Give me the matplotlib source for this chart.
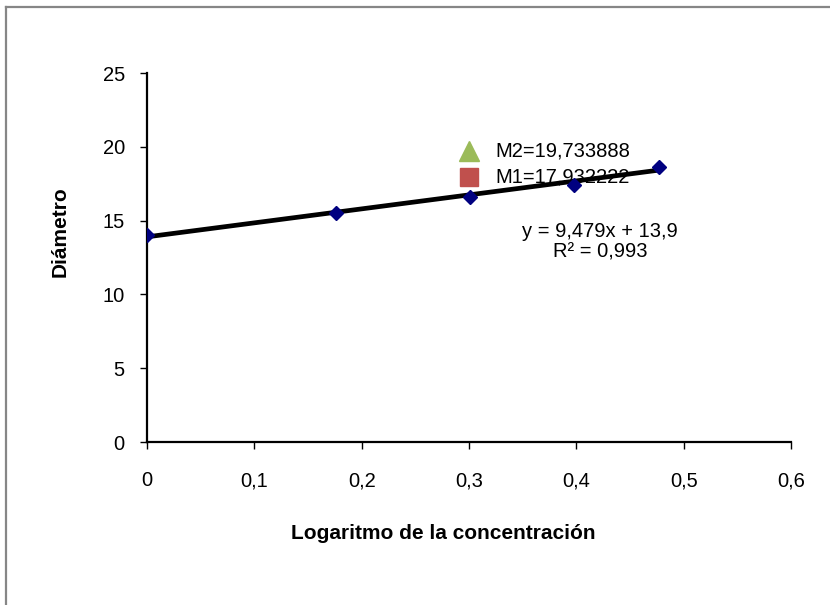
import numpy as np
from matplotlib import pyplot as plt
from matplotlib.lines import Line2D

plt.rcParams['font.family'] = ['Liberation Sans', 'DejaVu Sans']

# data
log_conc = [0.0, 0.176, 0.301, 0.398, 0.477]
diametro = [14.0, 15.5, 16.6, 17.4, 18.6]
slope, intercept = 9.479, 13.9
marks_x = [0.3, 0.3]
marks_y = [19.733888, 17.932222]
marks_txt = ['M2=19,733888', 'M1=17,932222']
x_ticks = [0, 0.1, 0.2, 0.3, 0.4, 0.5, 0.6]
y_ticks = [0, 5, 10, 15, 20, 25]

fig = plt.figure(figsize=(8.3, 6.05), dpi=100)
ax = fig.add_axes([0.1771, 0.2694, 0.7759, 0.6099])

# grey chart-area frame (only top and left edges are visible)
fig.add_artist(Line2D([5.5 / 830, 5.5 / 830], [0, 1 - 7 / 605], transform=fig.transFigure,
                      color='#868686', lw=1.6))
fig.add_artist(Line2D([5.5 / 830, 1], [1 - 7 / 605, 1 - 7 / 605], transform=fig.transFigure,
                      color='#868686', lw=1.6))

# trend line
xs = np.array([log_conc[0], log_conc[-1]])
ax.plot(xs, slope * xs + intercept, color='black', lw=3.4, zorder=2)
ax.plot(log_conc, diametro, ls='none', marker='D', ms=7, color='#000080', zorder=3)

# the two marked values
ax.plot(marks_x[0], marks_y[0], marker='^', ms=14, color='#9bbb59', ls='none', zorder=1)
ax.plot(marks_x[1], marks_y[1], marker='s', ms=12.5, color='#c0504d', ls='none', zorder=1)
for mx, my, txt in zip(marks_x, marks_y, marks_txt):
    ax.text(mx + 0.025, my, txt, fontsize=14.5, va='center', ha='left', zorder=1)

ax.text(0.422, 13.55, 'y = 9,479x + 13,9\nR² = 0,993', fontsize=14.5, ha='center', va='center',
        linespacing=1.1)

ax.set_xlim(0, 0.6)
ax.set_ylim(0, 25)
ax.set_xticks(x_ticks)
ax.set_yticks(y_ticks)
ax.set_xticklabels([str(t).replace('.', ',') for t in x_ticks])
ax.set_yticklabels([str(t) for t in y_ticks])
ax.tick_params(direction='out', length=5, width=1, labelsize=14.5, pad=16)
ax.tick_params(axis='y', pad=11)
for side in ['top', 'right']:
    ax.spines[side].set_visible(False)
for side in ['left', 'bottom']:
    ax.spines[side].set_linewidth(1.6)

ax.set_xlabel('Logaritmo de la concentración', fontsize=15, fontweight='bold', labelpad=24)
ax.set_ylabel('Diámetro', fontsize=15, fontweight='bold', labelpad=24)
ax.xaxis.label.set_x(0.46)
ax.yaxis.label.set_y(0.57)

fig.savefig('out.png', dpi=100)
